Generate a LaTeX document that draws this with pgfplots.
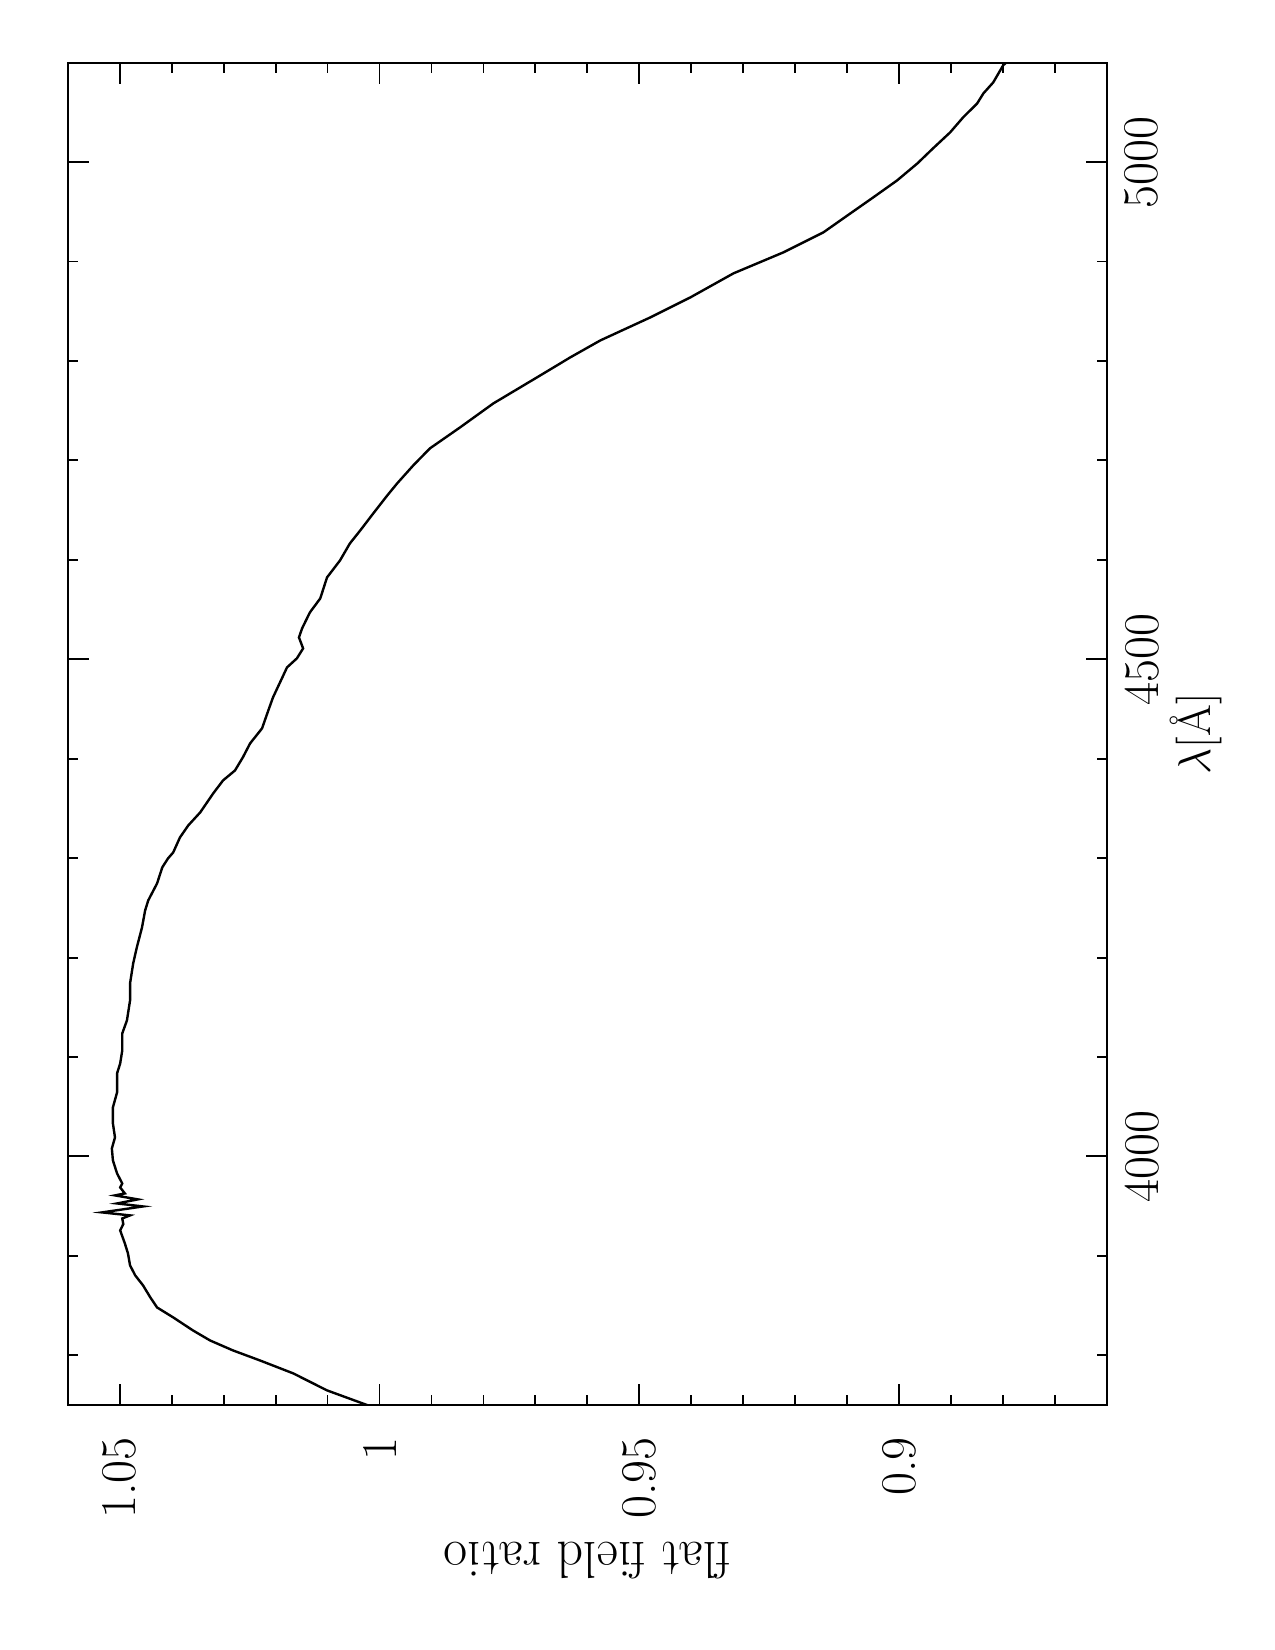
\RequirePackage{fix-cm}
\documentclass[border=0pt]{standalone}
\usepackage{fontspec}
\setmainfont{Latin Modern Roman}[Ligatures={TeX,NoCommon}]
\usepackage{pgfplots}
\pgfplotsset{compat=1.18}
\pgfplotstableread{
r lam
1.0022 3749.6
1.0101 3764.7
1.0166 3781.8
1.0230 3794.8
1.0282 3804.9
1.0326 3814.9
1.0359 3825.0
1.0397 3838.1
1.0428 3848.1
1.0441 3858.2
1.0455 3870.3
1.0470 3880.3
1.0480 3890.4
1.0484 3902.4
1.0490 3912.5
1.0499 3925.6
1.0493 3932.0
1.0495 3937.6
1.0480 3940.7
1.0534 3943.7
1.0455 3949.7
1.0505 3952.7
1.0465 3956.8
1.0509 3960.8
1.0490 3962.8
1.0499 3968.8
1.0495 3972.8
1.0505 3982.9
1.0513 3996.0
1.0515 4008.0
1.0509 4019.1
1.0513 4033.2
1.0513 4049.3
1.0505 4064.4
1.0505 4083.5
1.0499 4093.5
1.0495 4106.6
1.0495 4123.7
1.0486 4136.8
1.0480 4156.9
1.0480 4174.0
1.0474 4194.1
1.0467 4210.2
1.0457 4230.3
1.0451 4247.4
1.0445 4257.5
1.0428 4274.6
1.0418 4290.7
1.0407 4299.7
1.0397 4305.7
1.0384 4320.8
1.0368 4332.9
1.0345 4346.0
1.0320 4365.1
1.0301 4378.2
1.0278 4388.2
1.0263 4401.3
1.0249 4415.4
1.0226 4430.5
1.0216 4445.5
1.0205 4461.6
1.0187 4481.7
1.0178 4491.8
1.0159 4500.9
1.0147 4510.9
1.0155 4522.0
1.0149 4531.0
1.0134 4547.1
1.0114 4561.2
1.0101 4582.3
1.0076 4599.4
1.0057 4616.5
1.0037 4629.6
1.0012 4646.7
0.9985 4664.8
0.9966 4676.9
0.9935 4695.0
0.9903 4712.1
0.9845 4733.2
0.9781 4757.3
0.9697 4783.5
0.9633 4803.6
0.9575 4820.7
0.9479 4843.8
0.9402 4863.9
0.9319 4888.1
0.9223 4909.2
0.9146 4929.3
0.9094 4948.4
0.9050 4964.5
0.9004 4981.6
0.8965 4998.7
0.8935 5013.8
0.8902 5029.9
0.8877 5045.0
0.8850 5059.0
0.8838 5069.1
0.8819 5080.2
0.8800 5097.3
0.8794 5100.3
}\ffdata
\begin{document}
\begin{tikzpicture}
\begin{axis}[
  at={(0,0)}, anchor=south west,
  scale only axis,
  width=498.9bp, height=644.3bp,
  x dir=reverse,
  xmin=0.86, xmax=1.06,
  ymin=3750, ymax=5100,
  axis line style={line width=0.9bp},
  every tick/.style={black, line width=0.9bp},
  tick align=inside,
  xtick pos=both, ytick pos=both,
  yticklabel pos=right,
  major tick length=10bp,
  minor tick length=5bp,
  xtick={0.9,0.95,1,1.05},
  xticklabels={0.9,0.95,1,1.05},
  minor xtick={0.87,0.88,0.89,0.91,0.92,0.93,0.94,0.96,0.97,0.98,0.99,1.01,1.02,1.03,1.04},
  ytick={4000,4500,5000},
  yticklabels={4000,4500,5000},
  minor ytick={3800,3900,4100,4200,4300,4400,4600,4700,4800,4900},
  xticklabel style={font=\fontsize{24bp}{28bp}\selectfont, inner sep=0pt, yshift=-15.4bp, rotate=90, anchor=east},
  yticklabel style={font=\fontsize{24bp}{28bp}\selectfont, inner sep=0pt, xshift=8.2bp, rotate=90, anchor=north},
  xlabel={flat field ratio},
  ylabel={$\lambda$[Å]},
  every axis x label/.style={font=\fontsize{25bp}{30bp}\selectfont, at={(axis description cs:0.5,0)}, yshift=-74.8bp, rotate=180, anchor=center},
  every axis y label/.style={font=\fontsize{22bp}{26bp}\selectfont, at={(axis description cs:1,0.5)}, xshift=42.7bp, rotate=90, anchor=center},
]
\addplot[black, line width=1.15bp, mark=none] table[x=r, y=lam] {\ffdata};
\end{axis}
\path (-32.5bp,-117.6bp) rectangle (579.5bp,674.4bp);
\end{tikzpicture}
\end{document}
